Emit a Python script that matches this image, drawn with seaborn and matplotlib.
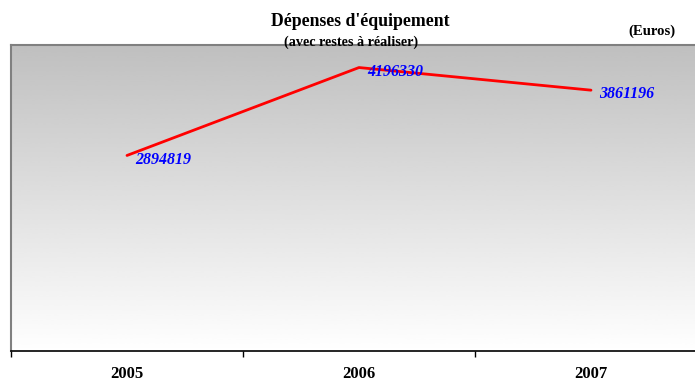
import numpy as np
import pandas as pd
import matplotlib
matplotlib.use("Agg")
import matplotlib.pyplot as plt
import seaborn as sns

years = ["2005", "2006", "2007"]
depenses = [2894819, 4196330, 3861196]

sns.set_style("white")
plt.rcParams["font.family"] = ["Liberation Serif", "DejaVu Serif"]
plt.rcParams["text.color"] = "black"
plt.rcParams["xtick.color"] = "black"

df = pd.DataFrame({"pos": np.arange(len(years)), "valeur": depenses})

fig = plt.figure(figsize=(6.95, 3.82), dpi=100)
ax = fig.add_axes([11 / 695, 1 - 351 / 382, 696 / 695, (351 - 45) / 382])

# vertical grey-to-white gradient behind the plot
grad = np.linspace(0.75, 1.0, 256).reshape(-1, 1)
ax.imshow(grad, cmap="gray", vmin=0, vmax=1, aspect="auto",
          extent=[0, 1, 0, 1], transform=ax.transAxes, zorder=0,
          interpolation="bicubic", origin="upper")

sns.lineplot(data=df, x="pos", y="valeur", ax=ax, color="#ff0000",
             linewidth=2.0, zorder=3)

for i, v in enumerate(depenses):
    ax.annotate(f"{v}", (i, v), xytext=(6, -3), textcoords="offset points",
                ha="left", va="center", color="#0000ff", fontsize=11.5,
                fontweight="bold", fontstyle="italic", zorder=4)

ax.set_xlim(-0.5, len(years) - 0.5)
ax.set_ylim(0, 4530000)
ax.set_xlabel("")
ax.set_ylabel("")
ax.set_yticks([])
ax.set_xticks(range(len(years)))
ax.set_xticklabels(years, fontsize=12, fontweight="bold", color="black")
ax.set_xticks(np.arange(-0.5, len(years)), minor=True)
ax.tick_params(axis="x", which="major", length=0, pad=11)
ax.tick_params(axis="x", which="minor", length=4, width=1, color="black",
               direction="out", bottom=True)

for side in ["top", "left"]:
    ax.spines[side].set_color("#808080")
    ax.spines[side].set_linewidth(1.5)
ax.spines["right"].set_visible(False)
ax.spines["bottom"].set_color("black")
ax.spines["bottom"].set_linewidth(1.2)

fig.text(360 / 695, 1 - 22 / 382, "Dépenses d'équipement", ha="center",
         va="center", fontsize=12.8, fontweight="bold", color="black")
fig.text(351 / 695, 1 - 42 / 382, "(avec restes à réaliser)", ha="center",
         va="center", fontsize=10.2, fontweight="bold", color="black")
fig.text(652 / 695, 1 - 31 / 382, "(Euros)", ha="center", va="center",
         fontsize=10.6, fontweight="bold", color="black")

fig.savefig("out.png", dpi=100)
